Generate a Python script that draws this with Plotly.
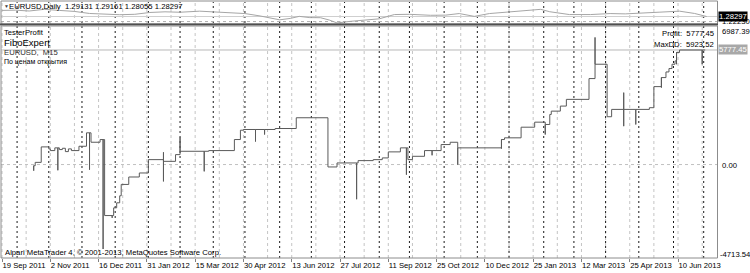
import pandas as pd
import plotly.graph_objects as go

# ---------------- data ----------------
start_date = "2011-09-19"
n_bars = 480
tick_step = 32
tick_labels = ["19 Sep 2011", "2 Nov 2011", "16 Dec 2011", "31 Jan 2012", "15 Mar 2012",
               "30 Apr 2012", "13 Jun 2012", "27 Jul 2012", "11 Sep 2012", "25 Oct 2012",
               "10 Dec 2012", "25 Jan 2013", "12 Mar 2013", "25 Apr 2013", "10 Jun 2013"]

# Tester profit: step levels (bar index, profit)
profit_bars = [21, 22, 26, 31, 32, 35, 38, 40, 42, 44, 46, 51, 56, 59, 65, 68, 74, 76, 78, 79,
               84, 91, 97, 107, 115, 118, 137, 154, 158, 160, 181, 195, 216, 222, 236, 246, 252,
               256, 264, 269, 272, 280, 291, 297, 302, 331, 333, 344, 353, 360, 363, 364, 370, 374,
               389, 393, 401, 404, 429, 432, 437, 440, 442, 444, 446, 447, 449, 466]
profit_vals = [-60, 110, 890, 790, 704, 841, 755, 820, 653, 790, 704, 922, 1600, 1125, 1260,
               -2573, -2183, -1930, -1575, -1003, -628, -425, 248, 162, 501, 669, 704, 1261, 1732,
               1768, 1818, 2360, -122, 81, 198, 248, 334, 638, 841, 248, 415, 704, 1008, 1124,
               841, 1261, 1347, 1884, 2137, 2021, 2527, 2694, 2948, 3287, 4336, 5060, 2411, 2781,
               2867, 3930, 4386, 4670, 4842, 5060, 5227, 5653, 5777.45, 5777.45]
# intrabar extremes (bar index, profit)
spike_bars = [21, 37, 58, 67, 73, 107, 107, 118, 134, 168, 174, 235, 268, 285, 302, 331, 360,
              393, 412, 412, 420, 437, 447, 464]
spike_vals = [-310, -290, -260, -4260, -2690, 618, -851, 1362, -344, 1160, 1514, -1750, -512,
              466, -5, 805, 1514, 6412, 3627, 1935, 2021, 3880, 5060, 5060]

# EURUSD daily close (bar index, price)
price_bars = [0, 9, 18, 28, 38, 48, 58, 68, 78, 88, 98, 108, 118, 131, 141, 151, 161, 171, 184,
              191, 197, 204, 211, 217, 222, 231, 244, 250, 260, 270, 284, 294, 303, 313, 323, 333,
              343, 357, 363, 376, 390, 403, 413, 423, 436, 449, 459, 467]
price_vals = [1.357, 1.360, 1.350, 1.370, 1.357, 1.345, 1.320, 1.310, 1.305, 1.310, 1.332,
              1.340, 1.335, 1.348, 1.340, 1.335, 1.319, 1.290, 1.243, 1.260, 1.285, 1.270,
              1.269, 1.240, 1.205, 1.225, 1.243, 1.255, 1.307, 1.310, 1.298, 1.300, 1.319,
              1.285, 1.319, 1.335, 1.350, 1.370, 1.341, 1.307, 1.307, 1.319, 1.315, 1.328,
              1.336, 1.348, 1.320, 1.28297]

ohlc = [1.29131, 1.29161, 1.28055, 1.28297]
price_level = 1.22230
profit_total = 5777.45
max_dd = 5923.52
scale_max = 6987.39
scale_min = -4713.54
price_axis = [1.1926, 1.471]

# ---------------- helpers ----------------
W, H = 750, 273
def px(x):
    return x / W
def py(y):
    return 1 - y / H

FONT = "Liberation Sans"
FS = 7.7

dates = pd.bdate_range(start_date, periods=n_bars)

bar_px = 1.509
x0_bar = (1 - 2) / bar_px
x1_bar = (717 - 2) / bar_px

events = sorted([(b, 0, v) for b, v in zip(profit_bars, profit_vals)] +
                [(b, 1, v) for b, v in zip(spike_bars, spike_vals)])
xs, ys = [], []
level = None
for b, kind, v in events:
    if kind == 0:
        xs.append(b); ys.append(v); level = v
    else:
        xs.append(b); ys.append(v)
        xs.append(b); ys.append(level)

fig = go.Figure()
fig.add_trace(go.Scatter(x=price_bars, y=price_vals, mode="lines", yaxis="y2",
                         line=dict(color="#a6a6a6", width=1), hoverinfo="skip"))
fig.add_trace(go.Scatter(x=xs, y=ys, mode="lines", line_shape="hv",
                         line=dict(color="#5a5a5a", width=1), hoverinfo="skip"))

main_top, main_bot = 26, 258
top_top, top_bot = 1, 24
shapes = []
for b in range(0, n_bars, 16):
    if x0_bar <= b <= x1_bar:
        shapes.append(dict(type="line", xref="x", yref="paper", x0=b, x1=b,
                           y0=py(main_bot), y1=py(top_top + 1),
                           line=dict(color="#c4c4c4", width=1, dash="3px,3px"), layer="below"))
for i in range(1, n_bars):
    if dates[i].month != dates[i - 1].month and x0_bar <= i <= x1_bar:
        shapes.append(dict(type="line", xref="x", yref="paper", x0=i, x1=i,
                           y0=py(main_bot), y1=py(top_top + 1),
                           line=dict(color="#1a1a1a", width=1, dash="2px,3px"), layer="below"))
shapes.append(dict(type="line", xref="paper", yref="y", x0=px(1), x1=px(717), y0=0, y1=0,
                   line=dict(color="#c0c0c0", width=1, dash="3px,3px"), layer="below"))
shapes.append(dict(type="line", xref="paper", yref="y", x0=px(1), x1=px(717),
                   y0=profit_total, y1=profit_total,
                   line=dict(color="#b8b8b8", width=1), layer="below"))
shapes.append(dict(type="line", xref="paper", yref="y2", x0=px(1), x1=px(717),
                   y0=ohlc[3], y1=ohlc[3], line=dict(color="#cfcfcf", width=1), layer="below"))
shapes.append(dict(type="line", xref="paper", yref="y2", x0=px(1), x1=px(717),
                   y0=price_level, y1=price_level,
                   line=dict(color="#b0b0b0", width=1, dash="3px,3px"), layer="below"))
shapes.append(dict(type="rect", xref="paper", yref="paper", x0=px(1), x1=px(717.5),
                   y0=py(top_bot), y1=py(top_top), line=dict(color="#8c8c8c", width=1)))
shapes.append(dict(type="line", xref="paper", yref="paper", x0=px(0), x1=px(718),
                   y0=py(24.5), y1=py(24.5), line=dict(color="#505050", width=2)))
shapes.append(dict(type="rect", xref="paper", yref="paper", x0=px(1), x1=px(717.5),
                   y0=py(main_bot), y1=py(main_top), line=dict(color="#8c8c8c", width=1)))

ann = []
def text(x, y, s, size=FS, xanchor="left", yanchor="middle", color="#000000", **kw):
    ann.append(dict(x=px(x), y=py(y), xref="paper", yref="paper", text=s, showarrow=False,
                    xanchor=xanchor, yanchor=yanchor,
                    font=dict(family=FONT, size=size, color=color), **kw))

text(2, 6, "▼", size=5, color="#404040")
text(7, 6, "EURUSD,Daily  " + " ".join(f"{v:.5f}" for v in ohlc))
text(2, 32.5, "TesterProfit")
text(2, 42.5, "FiboExpert", size=9.5)
text(2, 52, "EURUSD,  M15", color="#303030")
text(2, 62, "По ценам открытия", size=7)
text(716, 33, f"Profit:  {profit_total:.2f}", xanchor="right")
text(716, 45, f"MaxDD:  {max_dd:.2f}", xanchor="right")
text(3, 252.5, "Alpari MetaTrader 4, © 2001-2013, MetaQuotes Software Corp.")

text(720, 31, f"{scale_max:.2f}")
text(720, 165, f"{0:.2f}")
text(718, 254, f"{scale_min:.2f}")
ann.append(dict(x=px(718), y=profit_total, xref="paper", yref="y", text=f"{profit_total:.2f}",
                showarrow=False, xanchor="left", yanchor="middle",
                font=dict(family=FONT, size=FS, color="#ffffff"),
                bgcolor="#a8a8a8", borderpad=0))
text(720, 21.5, f"{price_level:.5f}")
ann.append(dict(x=px(718), y=ohlc[3], xref="paper", yref="y2", text=f"{ohlc[3]:.5f}",
                showarrow=False, xanchor="left", yanchor="middle",
                font=dict(family=FONT, size=FS, color="#ffffff"),
                bgcolor="#000000", borderpad=0))

fig.update_layout(
    width=W, height=H, margin=dict(l=0, r=0, t=0, b=0),
    paper_bgcolor="#ffffff", plot_bgcolor="rgba(0,0,0,0)",
    showlegend=False, shapes=shapes, annotations=ann,
    xaxis=dict(domain=[px(1), px(717)], range=[x0_bar, x1_bar], anchor="y",
               tickvals=[i * tick_step for i in range(len(tick_labels))], ticktext=tick_labels,
               ticks="outside", ticklen=3, tickcolor="#808080", tickangle=0,
               ticklabelposition="outside right",
               tickfont=dict(family=FONT, size=FS, color="#000000"),
               showgrid=False, zeroline=False, showline=False, automargin=False),
    yaxis=dict(domain=[py(main_bot), py(main_top)], range=[scale_min, scale_max],
               showticklabels=False, showgrid=False, zeroline=False, automargin=False),
    yaxis2=dict(domain=[py(top_bot), py(top_top)], range=price_axis, anchor="x",
                showticklabels=False, showgrid=False, zeroline=False, automargin=False),
)

fig.write_html("out.html")
